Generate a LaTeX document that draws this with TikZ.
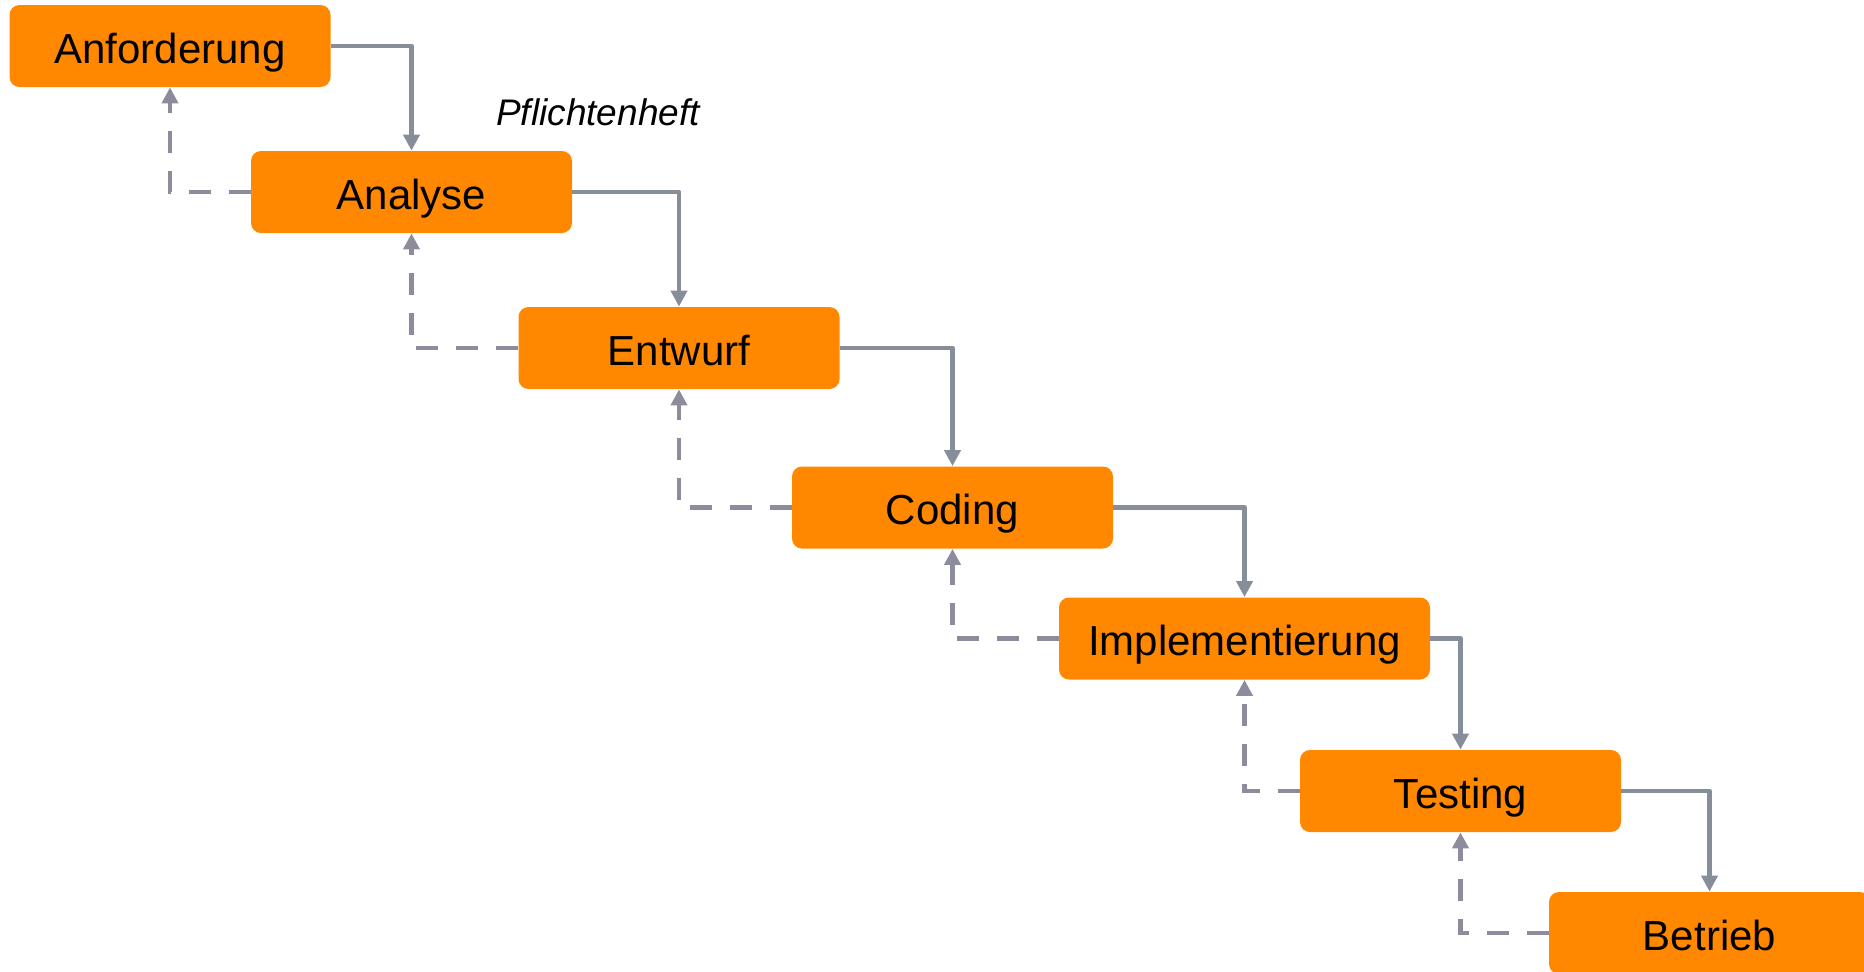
\documentclass[tikz,border=0pt]{standalone}
\usepackage{fontspec}
\setmainfont{Liberation Sans}
\usetikzlibrary{arrows.meta}
\definecolor{stufe}{RGB}{255,136,0}
\definecolor{pfeil}{RGB}{134,142,154}
\definecolor{rueck}{RGB}{140,140,156}

\begin{document}
\begin{tikzpicture}[x=0.5pt,y=-0.5pt]
	\tikzset{
		phase/.style={fill=stufe,rounded corners=5pt,minimum width=160.5pt,minimum height=41pt,
			inner sep=0pt,text height=17.4pt,text depth=0pt,font=\fontsize{21}{25}\selectfont},
		vor/.style={draw=pfeil,line width=2.3pt,line join=round,-{Triangle[length=8pt,width=8pt]}},
		zurueck/.style={draw=rueck,line width=2.3pt,dash pattern=on 11pt off 9pt,-{Triangle[length=8pt,width=8pt]}}
	}
	\useasboundingbox (0,0) rectangle (1864,971);
	\clip (0,0) rectangle (1864,971);
	\node[phase] (anf) at (170,46) {Anforderung};
	\node[phase] (ana) at (411.5,192) {Analyse};
	\node[phase] (ent) at (679,348) {Entwurf};
	\node[phase] (cod) at (952.5,507.5) {Coding};
	\node[phase,minimum width=185.5pt] (impl) at (1244.5,638.5) {Implementierung};
	\node[phase] (test) at (1460.5,791) {Testing};
	\node[phase] (betr) at (1709.5,933) {Betrieb};
	\node[font=\itshape\fontsize{18.5}{22}\selectfont] (pfl) at (598,112) {Pflichtenheft};
	\foreach \a/\b in {anf/ana,ana/ent,ent/cod,cod/impl,impl/test,test/betr}{
		\draw[vor] (\a.east) -| (\b.north);
		\draw[zurueck] (\b.west) -| (\a.south);
	}
\end{tikzpicture}
\end{document}
